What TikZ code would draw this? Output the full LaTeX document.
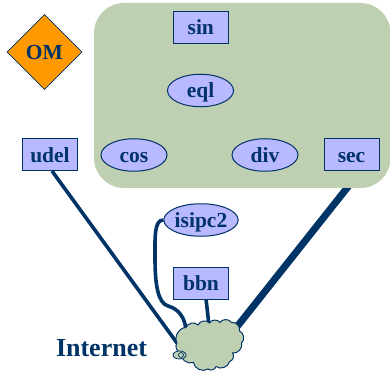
\documentclass[tikz,border=0pt]{standalone}
\usepackage{fontspec}
\setmainfont{Liberation Serif}
\usetikzlibrary{shapes.geometric}
\definecolor{navy}{HTML}{003366}
\definecolor{sage}{HTML}{BFCFB2}
\definecolor{peri}{HTML}{B9B9FF}
\definecolor{om}{HTML}{FF9900}
\pgfdeclarelayer{edges}
\pgfdeclarelayer{panel}
\pgfsetlayers{edges,panel,main}
\tikzset{
  lab/.style={font=\fontsize{21.5}{21.5}\selectfont\bfseries,text=navy,inner sep=0pt,text height=15pt,text depth=0pt},
  boxn/.style={lab,draw=navy,line width=1pt,fill=peri,minimum width=55pt,minimum height=32pt},
  elln/.style={lab,ellipse,draw=navy,line width=1pt,fill=peri,minimum width=66pt,minimum height=32.5pt},
  link/.style={draw=navy,line width=3.6pt},
  puff/.style={bend left=60}
}
\begin{document}
\begin{tikzpicture}[x=1pt,y=-1pt]
\useasboundingbox (0,0) rectangle (390,371);
\node[lab,diamond,draw=navy,line width=.8pt,fill=om,minimum width=75pt,minimum height=75pt] (om) at (44.5,52) {OM};
\node[boxn] (udel) at (50,155) {udel};
\node[boxn] (sin) at (200.8,27.5) {sin};
\node[elln] (eql) at (200.5,90.5) {eql};
\node[elln] (cos) at (134,155) {cos};
\node[elln] (div) at (265,155) {div};
\node[boxn] (sec) at (351.5,155) {sec};
\node[elln] (isipc) at (201,220) {isipc2};
\node[boxn] (bbn) at (201,283) {bbn};
\draw[navy,line width=1pt,fill=sage] (186,327.5) to[puff] (198,325) to[puff] (209.5,323) to[puff] (220,322.5) to[puff] (231.5,322.5)
  to[puff] (239.5,331) to[puff] (241.5,343) to[puff] (232.5,353) to[puff] (229.5,361.5) to[puff] (216,366.5)
  to[puff] (208,369) to[puff] (193.5,362.5) to[puff] (180.5,352.5) to[puff] (177,343) to[puff] (186,327.5) -- cycle;
\node[ellipse,draw=navy,line width=.8pt,fill=sage,minimum width=13pt,minimum height=8pt,inner sep=0pt] (puffa) at (179.5,355) {};
\node[circle,draw=navy,line width=.7pt,fill=sage,minimum size=5pt,inner sep=0pt] (puffb) at (181,355) {};
\node[font=\fontsize{26}{26}\selectfont\bfseries,text=navy,inner sep=0pt] (inet) at (101.5,348) {Internet};
\coordinate (udelout) at (52,171);
\coordinate (secout) at (360.5,171);
\coordinate (bbnout) at (206,299);
\coordinate (udelin) at (177,343);
\coordinate (secin) at (236,328);
\coordinate (bbnin) at (209,325);
\begin{pgfonlayer}{panel}
\fill[sage,rounded corners=30pt] (94,3) rectangle (390.5,188);
\end{pgfonlayer}
\begin{pgfonlayer}{edges}
\draw[link] (udelout) -- (udelin);
\draw[draw=navy,line width=7pt] (secout) -- (secin);
\draw[link] (bbnout) -- (bbnin);
\draw[link] (isipc.west) .. controls (154,220) and (155,238) .. (155,258) .. controls (155,285) and (158,303) .. (168,306) .. controls (179,309) and (185,318) .. (186,330);
\end{pgfonlayer}
\end{tikzpicture}
\end{document}
